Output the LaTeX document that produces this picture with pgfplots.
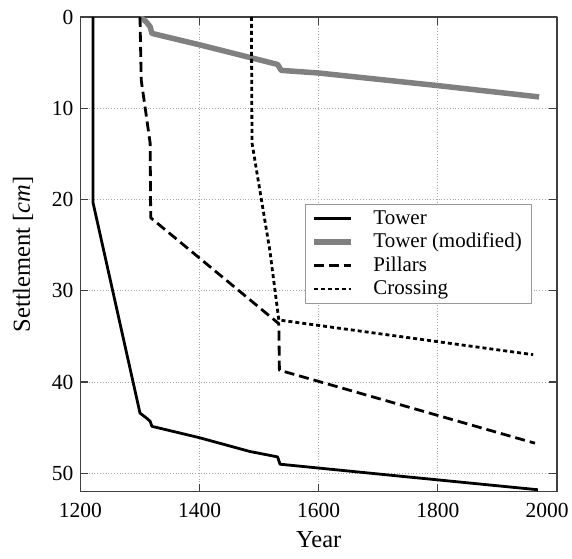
\documentclass[border=0pt]{standalone}
\usepackage{fontspec}
\setmainfont{Liberation Serif}
\usepackage{pgfplots}
\pgfplotsset{compat=1.18}
\definecolor{modgray}{RGB}{128,128,128}
\begin{document}
\begin{tikzpicture}
\begin{axis}[
 scale only axis, width=238.5pt, height=237.5pt,
 xmin=1200, xmax=2000, ymin=0, ymax=52, y dir=reverse,
 xtick={1200,1400,1600,1800,2000}, ytick={0,10,...,50},
 xticklabels={1200,1400,1600,1800,{\hspace*{-10pt}2000}},
 tick align=inside, major tick length=4pt,
 grid=major, grid style={densely dotted, gray!70, line width=0.4pt},
 axis line style={black!75, line width=0.6pt},
 tick style={black!75, line width=0.6pt},
 /pgf/number format/1000 sep={},
 /pgf/number format/assume math mode=true,
 tick label style={font=\fontsize{10.75}{12}\selectfont},
 xticklabel style={yshift=-2.5pt},
 xlabel={Year}, ylabel={Settlement [\textit{cm}]},
 label style={font=\fontsize{12.25}{14}\selectfont},
 xlabel style={at={(axis description cs:0.5,-0.102)}, anchor=center},
 ylabel style={at={(axis description cs:-0.1205,0.5)}, anchor=center},
 legend style={at={(0.948,0.606)}, anchor=north east, draw=black!40, line width=0.5pt,
   font=\fontsize{10.5}{12}\selectfont, inner xsep=3pt, inner ysep=1pt, row sep=-1pt,
   cells={anchor=west}, /tikz/every odd column/.append style={column sep=8pt}},
 legend image code/.code={\draw[#1] (0pt,0pt) -- (18.5pt,0pt);},
 line join=round,
]
\addplot[black, line width=1.4pt, no markers] coordinates {
(1221,0) (1221,20.3) (1300,43.4) (1312,44.0) (1317,44.3) (1320,44.85) (1400,46.1) (1484,47.6) (1531,48.2) (1535,49.0) (1735,50.3) (1968,51.8)};
\addlegendentry{Tower}
\addplot[modgray, line width=2.75pt, no markers] coordinates {
(1300,0) (1310,0.5) (1317,1.06) (1320,1.8) (1400,3.05) (1531,5.2) (1537,5.85) (1600,6.14) (1800,7.52) (1970,8.76)};
\addlegendentry{Tower (modified)}
\addplot[black, line width=1.4pt, dash pattern=on 5pt off 2.5pt, no markers] coordinates {
(1300,0) (1302,6.9) (1317,13.8) (1318,22.0) (1533,33.6) (1534,38.7) (1963,46.7)};
\addlegendentry{Pillars}
\addplot[black, line width=1.4pt, dash pattern=on 2pt off 1.5pt, no markers] coordinates {
(1487,0) (1488,13.8) (1518,25.6) (1533,33.2) (1960,37.0)};
\addlegendentry{Crossing}
\coordinate (sw) at (axis description cs:0,0);
\coordinate (ne) at (axis description cs:1,1);
\end{axis}
\pgfresetboundingbox
\path ([shift={(-40.25pt,-33.25pt)}]sw) rectangle ([shift={(7.5pt,8.5pt)}]ne);
\end{tikzpicture}
\end{document}
